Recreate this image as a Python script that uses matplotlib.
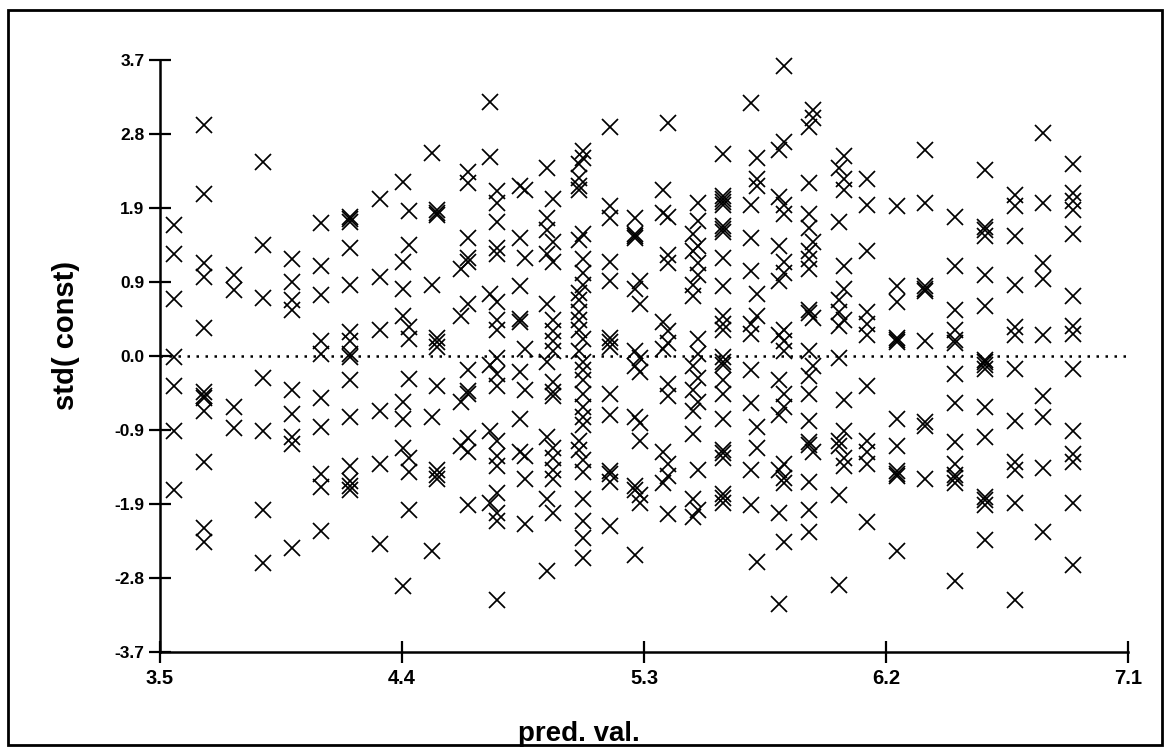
import matplotlib
matplotlib.use("Agg")
import matplotlib.pyplot as plt
from matplotlib.patches import Rectangle
from matplotlib import font_manager

# predicted values (columns) and the standardized residuals
pred_cols = [3.552, 3.664, 3.775, 3.883, 3.991, 4.099, 4.207, 4.318,
             4.403, 4.427, 4.510, 4.529, 4.619, 4.644, 4.727, 4.752,
             4.839, 4.857, 4.941, 4.962, 5.058, 5.073, 5.173, 5.266,
             5.285, 5.372, 5.390, 5.482, 5.499, 5.595, 5.697, 5.719,
             5.802, 5.820, 5.913, 5.930, 6.025, 6.044, 6.128, 6.240,
             6.345, 6.456, 6.568, 6.680, 6.785, 6.896]

resid_cols = [
    [1.64, 1.28, 0.71, -0.01, -0.38, -0.94, -1.68],
    [2.89, 2.03, 1.16, 0.99, 0.35, -0.45, -0.50, -0.52, -0.69, -1.32, -2.15, -2.33],
    [1.01, 0.83, -0.64, -0.90],
    [2.42, 1.39, 0.72, -0.28, -0.94, -1.92, -2.59],
    [1.21, 0.92, 0.70, 0.57, -0.42, -0.73, -1.01, -1.10, -2.40],
    [1.66, 1.13, 0.76, 0.19, 0.02, -0.52, -0.89, -1.47, -1.64, -2.19],
    [1.68, 1.71, 1.74, 1.35, 0.89, 0.30, 0.19, 0.03, -0.01, -0.30, -0.76, -1.37, -1.56, -1.62, -1.68],
    [1.96, 0.99, 0.32, -0.69, -1.35, -2.35],
    [2.17, 1.18, 0.84, 0.50, -0.57, -0.79, -1.15, -2.88],
    [1.81, 1.39, 0.36, 0.21, -0.29, -1.28, -1.45, -1.93],
    [2.54, 0.89, -0.76, -2.44],
    [1.76, 1.79, 1.82, 0.23, 0.17, 0.11, -0.37, -1.42, -1.49, -1.54],
    [1.09, 0.50, -0.57, -1.13],
    [2.30, 2.16, 1.48, 1.22, 1.18, 0.65, -0.18, -0.44, -0.48, -1.03, -1.20, -1.86],
    [3.18, 2.49, 0.77, -0.11, -0.94, -1.84],
    [2.06, 1.91, 1.67, 1.35, 1.28, 0.67, 0.45, 0.33, -0.03, -0.23, -0.38, -1.06, -1.25, -1.37, -1.71, -1.96, -2.06, -3.05],
    [2.13, 1.48, 0.87, 0.46, 0.42, -0.20, -0.79, -1.20],
    [2.08, 1.23, 0.09, -0.42, -1.25, -1.54, -2.10],
    [2.35, 1.72, 1.57, 1.28, 0.65, -0.08, -1.01, -1.79, -2.69],
    [1.96, 1.43, 1.18, 0.45, 0.31, 0.19, 0.06, -0.33, -0.45, -0.50, -1.15, -1.28, -1.42, -1.54, -1.96],
    [2.40, 2.23, 2.13, 2.07, 1.45, 0.79, 0.70, 0.55, 0.45, 0.33, 0.06, -1.06, -1.18],
    [2.56, 2.47, 1.52, 1.21, 1.04, 0.89, 0.21, -0.08, -0.18, -0.30, -0.47, -0.64, -0.76, -0.86, -1.30, -1.45, -1.79, -2.06, -2.27, -2.52],
    [2.86, 1.87, 1.72, 1.18, 0.94, 0.22, 0.18, 0.11, -0.47, -0.74, -1.44, -1.48, -1.57, -2.13],
    [1.72, 1.53, 1.50, 1.47, 0.84, 0.06, -0.13, -0.76, -1.63, -1.67, -2.49],
    [0.94, 0.65, -0.03, -0.20, -0.84, -1.06, -1.74, -1.84],
    [2.08, 1.79, 0.43, 0.09, -1.20, -1.59],
    [2.91, 1.74, 1.26, 1.16, 0.31, 0.16, -0.35, -0.50, -1.35, -1.50, -1.98],
    [1.52, 1.31, 0.89, 0.75, -0.13, -0.42, -0.69, -0.98, -1.79, -2.01],
    [1.91, 1.69, 1.38, 1.16, 1.01, 0.21, 0.02, -0.28, -0.57, -1.42, -1.93],
    [2.52, 2.00, 1.96, 1.93, 1.89, 1.63, 1.59, 1.55, 1.23, 0.87, 0.50, 0.40, 0.33, -0.01, -0.07, -0.11,
     -0.30, -0.47, -0.79, -1.17, -1.21, -1.28, -1.73, -1.77, -1.84],
    [3.16, 1.89, 1.48, 1.06, 0.40, 0.28, -0.18, -0.59, -1.42, -1.86],
    [2.47, 2.21, 2.13, 0.77, 0.50, -0.89, -1.15, -2.57],
    [2.57, 1.99, 1.38, 0.94, 0.26, -0.30, -0.74, -1.42, -1.96, -3.10],
    [3.62, 2.67, 1.89, 1.77, 1.18, 1.04, 0.33, 0.19, 0.06, -0.47, -0.64, -1.35, -1.52, -1.59, -2.32],
    [2.86, 2.16, 1.77, 1.60, 1.31, 1.21, 1.09, 0.58, 0.54, 0.06, -0.25, -0.47, -0.81, -1.07, -1.11, -1.57, -1.93, -2.20],
    [3.08, 2.98, 1.43, 0.48, -0.13, -1.20],
    [2.35, 1.67, 0.70, 0.55, 0.38, -0.03, -1.06, -1.13, -1.74, -2.86],
    [2.50, 2.21, 2.08, 1.13, 0.84, 0.45, -0.55, -0.94, -1.28, -1.37],
    [2.21, 1.89, 1.31, 0.55, 0.40, 0.26, -0.38, -1.06, -1.20, -1.35, -2.08],
    [1.87, 0.87, 0.67, 0.23, 0.20, 0.17, -0.79, -1.13, -1.44, -1.47, -1.50, -2.44],
    [2.57, 1.91, 0.87, 0.84, 0.81, 0.19, -0.83, -0.87, -1.54],
    [1.74, 1.13, 0.57, 0.33, 0.20, 0.16, -0.23, -0.59, -1.08, -1.35, -1.49, -1.53, -1.59, -2.81],
    [2.33, 1.61, 1.57, 1.50, 1.01, 0.62, -0.05, -0.08, -0.11, -0.16, -0.64, -1.01, -1.76, -1.80, -1.86, -2.30],
    [2.01, 1.87, 1.50, 0.89, 0.36, 0.26, -0.16, -0.81, -1.32, -1.42, -1.84, -3.05],
    [2.79, 1.91, 1.16, 0.96, 0.26, -0.50, -0.76, -1.40, -2.20],
    [2.40, 2.04, 1.94, 1.82, 1.52, 0.75, 0.38, 0.28, -0.16, -0.94, -1.23, -1.32, -1.84, -2.61],
]

x_ticks = [3.5, 4.4, 5.3, 6.2, 7.1]
x_tick_labels = ["3.5", "4.4", "5.3", "6.2", "7.1"]
y_ticks = [-3.7, -2.775, -1.85, -0.925, 0.0, 0.925, 1.85, 2.775, 3.7]
y_tick_labels = ["-3.7", "-2.8", "-1.9", "-0.9", "0.0", "0.9", "1.9", "2.8", "3.7"]

plt.rcParams['font.family'] = ['Liberation Sans', 'DejaVu Sans']

# narrow face for the x tick numbers if it is there
installed = {f.name for f in font_manager.fontManager.ttflist}
narrow = 'Liberation Sans Narrow' if 'Liberation Sans Narrow' in installed else 'Liberation Sans'

W, H = 1169, 749
fig = plt.figure(figsize=(W / 100, H / 100), dpi=100)
ax = fig.add_axes([160 / W, 1 - 652 / H, (1128 - 160) / W, (652 - 60) / H])

for xv, ys in zip(pred_cols, resid_cols):
    ax.plot([xv] * len(ys), ys, ls='none', marker='x', ms=12.2, mew=1.25,
            color='black', clip_on=False)

# zero reference line
ax.axhline(0, color='black', lw=1.8, ls=(0, (1.0, 2.6)))

ax.set_xlim(3.5, 7.1)
ax.set_ylim(-3.7, 3.7)
ax.set_xticks(x_ticks)
ax.set_xticklabels(x_tick_labels, family=narrow, fontweight='bold', fontsize=14.5)
ax.set_yticks(y_ticks)
ax.set_yticklabels(y_tick_labels, fontweight='bold', fontsize=12.5)

for s in ['top', 'right']:
    ax.spines[s].set_visible(False)
for s in ['left', 'bottom']:
    ax.spines[s].set_linewidth(1.8)

ax.tick_params(direction='inout', length=16.5, width=1.6)
ax.tick_params(axis='y', pad=3)
ax.tick_params(axis='x', pad=4)

fig.text(579 / W, 1 - 741 / H, "pred. val.", ha='center', va='baseline',
         fontsize=20, fontweight='bold')
fig.text(66 / W, 1 - 335 / H, "std( const)", ha='center', va='center',
         rotation=90, fontsize=21, fontweight='bold')

# outer frame
fig.add_artist(Rectangle((8 / W, 1 - 745 / H), (1162 - 8) / W, (745 - 10) / H,
                         transform=fig.transFigure, fill=False, lw=2.0,
                         edgecolor='black'))

fig.savefig("out.png", dpi=100)
